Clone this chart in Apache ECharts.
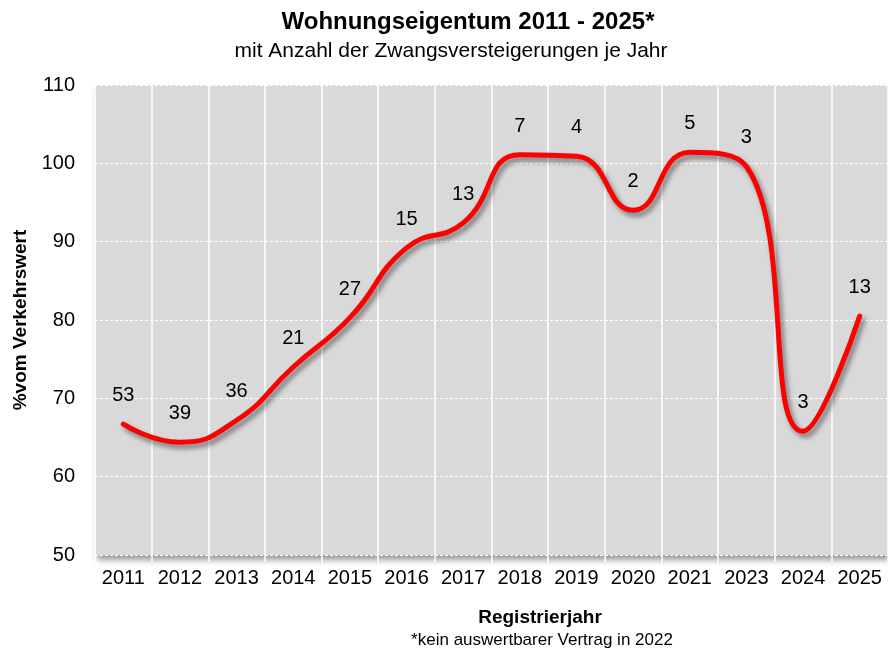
<!DOCTYPE html>
<html>
<head>
<meta charset="utf-8">
<script src="https://cdn.jsdelivr.net/npm/echarts@6/dist/echarts.min.js"></script>
<style>
  html, body { margin: 0; padding: 0; background: #fff; }
  #chart { width: 888px; height: 653px; }
</style>
</head>
<body>
<div id="chart"></div>
<script>
// Registrierjahre (2022 fehlt)
const years = ["2011", "2012", "2013", "2014", "2015", "2016", "2017", "2018", "2019", "2020", "2021", "2023", "2024", "2025"];
// % vom Verkehrswert
const pctValue = [66.7, 64.4, 67.2, 74.0, 80.3, 89.2, 92.4, 101.1, 100.9, 94.0, 101.4, 99.6, 65.8, 80.5];
// Anzahl Zwangsversteigerungen je Jahr
const auctions = [53, 39, 36, 21, 27, 15, 13, 7, 4, 2, 5, 3, 3, 13];

const font = "'Liberation Sans', Arial, sans-serif";

const chart = echarts.init(document.getElementById("chart"));

chart.setOption({
  animation: false,
  backgroundColor: "#ffffff",
  textStyle: { fontFamily: font },
  title: [
    {
      text: "Wohnungseigentum 2011 - 2025*",
      left: 463, top: 5, textAlign: "center",
      textStyle: { fontFamily: font, fontSize: 24, fontWeight: "bold", color: "#000" }
    },
    {
      text: "mit Anzahl der Zwangsversteigerungen je Jahr",
      left: 446, top: 36, textAlign: "center",
      textStyle: { fontFamily: font, fontSize: 21, fontWeight: "normal", color: "#000" }
    },
    {
      text: "Registrierjahr",
      left: 535, top: 603, textAlign: "center",
      textStyle: { fontFamily: font, fontSize: 19, fontWeight: "bold", color: "#000" }
    },
    {
      text: "*kein auswertbarer Vertrag in 2022",
      left: 537, top: 627, textAlign: "center",
      textStyle: { fontFamily: font, fontSize: 17, fontWeight: "normal", color: "#000" }
    }
  ],
  grid: {
    left: 95, right: 0, top: 85, bottom: 98,
    outerBoundsMode: "none",
    containLabel: false,
    show: true,
    backgroundColor: "#d9d9d9",
    borderWidth: 0,
    shadowColor: "rgba(0,0,0,0.4)",
    shadowBlur: 6,
    shadowOffsetX: 2,
    shadowOffsetY: 5
  },
  xAxis: {
    type: "category",
    data: years,
    boundaryGap: true,
    axisLine: { show: false },
    axisTick: { show: true, length: 7, lineStyle: { color: "#ffffff", width: 1.5 } },
    axisLabel: { color: "#000", fontSize: 20, margin: 13, fontFamily: font, interval: 0 },
    splitLine: { show: true, lineStyle: { color: "#ffffff", width: 1.5 } }
  },
  yAxis: {
    type: "value",
    min: 50, max: 110, interval: 10,
    name: "%vom Verkehrswert",
    nameLocation: "middle",
    nameGap: 63,
    nameTextStyle: { fontFamily: font, fontSize: 19, fontWeight: "bold", color: "#000" },
    axisLine: { show: false },
    axisTick: { show: false },
    axisLabel: { color: "#000", fontSize: 20, margin: 20, fontFamily: font },
    splitLine: { show: true, lineStyle: { color: "#ffffff", width: 1, type: [3, 2] } }
  },
  series: [{
    type: "line",
    data: pctValue,
    smooth: 0.5,
    symbol: "circle",
    symbolSize: 1,
    showSymbol: true,
    itemStyle: { color: "rgba(0,0,0,0)" },
    lineStyle: {
      color: "#ff0000",
      width: 5,
      cap: "round",
      shadowColor: "rgba(0,0,0,0.45)",
      shadowBlur: 5,
      shadowOffsetX: 3,
      shadowOffsetY: 4
    },
    label: {
      show: true,
      position: "top",
      distance: 18,
      fontFamily: font,
      fontSize: 20,
      color: "#000",
      formatter: (p) => String(auctions[p.dataIndex])
    }
  }]
});
</script>
</body>
</html>
